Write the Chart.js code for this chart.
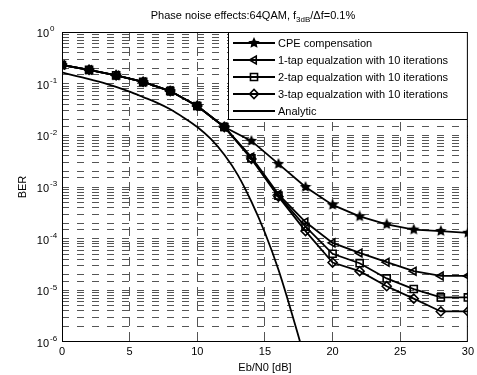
<!DOCTYPE html>
<html>
<head>
<meta charset="utf-8">
<script src="https://cdn.jsdelivr.net/npm/chart.js@4.4.1/dist/chart.umd.min.js"></script>
<style>
    html, body { margin: 0; padding: 0; background: #fff; }
    #wrap { position: relative; width: 477px; height: 375px; }
</style>
</head>
<body>
<div id="wrap"><canvas id="myChart"></canvas></div>
<script>
// Eb/N0 values of the simulated points
const ebn0 = [0, 2, 4, 6, 8, 10, 12, 14, 16, 18, 20, 22, 24, 26, 28, 30];

// BER
const berCpe  = [0.23, 0.185, 0.145, 0.108, 0.072, 0.037, 0.0145, 7.8e-3, 2.8e-3, 1.0e-3, 4.5e-4, 2.7e-4, 1.9e-4, 1.5e-4, 1.4e-4, 1.3e-4];
const berTap1 = [0.23, 0.185, 0.145, 0.108, 0.072, 0.037, 0.0145, 3.8e-3, 7.2e-4, 2.1e-4, 8.3e-5, 5.3e-5, 3.5e-5, 2.35e-5, 1.9e-5, 1.9e-5];
const berTap2 = [0.23, 0.185, 0.145, 0.108, 0.072, 0.037, 0.0145, 3.6e-3, 6.8e-4, 1.7e-4, 5.1e-5, 3.35e-5, 1.7e-5, 1.06e-5, 7.3e-6, 7.3e-6];
const berTap3 = [0.23, 0.185, 0.145, 0.108, 0.072, 0.037, 0.0145, 3.5e-3, 6.5e-4, 1.4e-4, 3.45e-5, 2.35e-5, 1.2e-5, 6.9e-6, 3.9e-6, 3.9e-6];

// analytic curve
const ebn0Analytic = [0, 1, 2, 3, 4, 5, 6, 7, 8, 9, 10, 11, 12, 13, 14, 15, 16, 17, 17.6];
const berAnalytic  = [0.165, 0.142, 0.122, 0.105, 0.087, 0.07, 0.055, 0.043, 0.032, 0.022, 0.0145, 8.5e-3, 4.2e-3, 1.7e-3, 5.2e-4, 1.3e-4, 2.5e-5, 3.5e-6, 1e-6];

const xTicks = [0, 5, 10, 15, 20, 25, 30];
const yDecades = [0, -1, -2, -3, -4, -5, -6];

const seriesNames = [
    "CPE compensation",
    "1-tap equalzation with 10 iterations",
    "2-tap equalzation with 10 iterations",
    "3-tap equalzation with 10 iterations",
    "Analytic"
];

const FONT = '"Liberation Sans", Arial, Helvetica, sans-serif';

// filled star marker (pentagram)
function makeStar(size) {
    const c = document.createElement("canvas");
    c.width = size; c.height = size;
    const g = c.getContext("2d");
    const cx = size / 2, cy = size / 2, ro = size / 2, ri = ro * 0.48;
    g.beginPath();
    for (let i = 0; i < 10; i++) {
        const r = i % 2 === 0 ? ro : ri;
        const a = -Math.PI / 2 + i * Math.PI / 5;
        g.lineTo(cx + r * Math.cos(a), cy + r * Math.sin(a));
    }
    g.closePath();
    g.fillStyle = "#000";
    g.fill();
    return c;
}
const starImg = makeStar(12);

const pts = (xs, ys) => xs.map((x, i) => ({ x: x, y: ys[i] }));

const styles = [
    { pointStyle: starImg, rotation: 0, radius: 6 },
    { pointStyle: "triangle", rotation: -90, radius: 4.5 },
    { pointStyle: "rect", rotation: 0, radius: 5 },
    { pointStyle: "rectRot", rotation: 0, radius: 4.5 },
    { pointStyle: false, rotation: 0, radius: 0 }
];

function simSet(i, ys) {
    return {
        label: seriesNames[i],
        data: pts(ebn0, ys),
        borderColor: "#000",
        backgroundColor: "rgba(0,0,0,0)",
        borderWidth: 1.8,
        pointStyle: styles[i].pointStyle,
        pointRotation: styles[i].rotation,
        pointRadius: styles[i].radius,
        pointBorderWidth: 1.6,
        pointBackgroundColor: "rgba(0,0,0,0)",
        pointBorderColor: "#000",
        fill: false
    };
}

const decorations = {
    id: "decorations",
    afterDraw(chart) {
        const ctx = chart.ctx;
        const a = chart.chartArea;
        const yScale = chart.scales.y;
        ctx.save();
        ctx.setLineDash([]);

        // frame
        ctx.strokeStyle = "#000";
        ctx.lineWidth = 1;
        ctx.strokeRect(a.left + 0.5, a.top + 0.5, a.right - a.left - 1, a.bottom - a.top - 1);

        // y tick labels 10^n
        ctx.fillStyle = "#000";
        ctx.textBaseline = "middle";
        yDecades.forEach(e => {
            const y = yScale.getPixelForValue(Math.pow(10, e));
            ctx.font = "11px " + FONT;
            ctx.textAlign = "right";
            ctx.fillText("10", 49, y + 2);
            ctx.font = "8px " + FONT;
            ctx.textAlign = "left";
            ctx.fillText(String(e), 50, y - 3);
        });

        // title with subscript
        const parts = [
            { t: "Phase noise effects:64QAM, f", f: "11px " + FONT, dy: 0 },
            { t: "3dB", f: "8px " + FONT, dy: 3 },
            { t: "/\u0394f=0.1%", f: "11px " + FONT, dy: 0 }
        ];
        let total = 0;
        parts.forEach(p => { ctx.font = p.f; p.w = ctx.measureText(p.t).width; total += p.w; });
        let tx = 253 - total / 2;
        ctx.textAlign = "left";
        ctx.textBaseline = "alphabetic";
        parts.forEach(p => {
            ctx.font = p.f;
            ctx.fillText(p.t, tx, 19 + p.dy);
            tx += p.w;
        });

        // legend
        const lx = 228, ly = a.top, lw = a.right - lx, lh = 88;
        ctx.fillStyle = "#fff";
        ctx.fillRect(lx, ly, lw, lh);
        ctx.strokeStyle = "#000";
        ctx.lineWidth = 1;
        ctx.strokeRect(lx + 0.5, ly + 0.5, lw - 1, lh - 1);
        ctx.font = "11px " + FONT;
        ctx.textBaseline = "middle";
        seriesNames.forEach((name, i) => {
            const y = 43 + i * 17;
            ctx.strokeStyle = "#000";
            ctx.lineWidth = 1.8;
            ctx.beginPath();
            ctx.moveTo(233, y);
            ctx.lineTo(275, y);
            ctx.stroke();
            if (styles[i].pointStyle) {
                ctx.fillStyle = "rgba(0,0,0,0)";
                ctx.lineWidth = 1.6;
                Chart.helpers.drawPoint(ctx, {
                    pointStyle: styles[i].pointStyle,
                    rotation: styles[i].rotation,
                    radius: styles[i].radius,
                    borderWidth: 1.6
                }, 254, y);
            }
            ctx.fillStyle = "#000";
            ctx.fillText(name, 278, y + 1);
        });
        ctx.restore();
    }
};

const ctx = document.getElementById("myChart").getContext("2d");
const myChart = new Chart(ctx, {
    type: "line",
    data: {
        datasets: [
            simSet(0, berCpe),
            simSet(1, berTap1),
            simSet(2, berTap2),
            simSet(3, berTap3),
            {
                label: seriesNames[4],
                data: pts(ebn0Analytic, berAnalytic),
                borderColor: "#000",
                borderWidth: 1.8,
                pointRadius: 0,
                cubicInterpolationMode: "monotone",
                fill: false
            }
        ]
    },
    options: {
        responsive: true,
        maintainAspectRatio: false,
        animation: false,
        layout: { padding: { top: 32, right: 6, left: 0, bottom: 0 } },
        plugins: {
            legend: { display: false },
            title: { display: false },
            tooltip: { enabled: false }
        },
        scales: {
            x: {
                type: "linear",
                min: 0,
                max: 30,
                afterBuildTicks: s => { s.ticks = xTicks.map(v => ({ value: v })); },
                afterFit: s => { s.height = 33; },
                ticks: { color: "#000", font: { family: FONT, size: 11 }, padding: 3, maxRotation: 0 },
                grid: {
                    drawTicks: false,
                    color: c => (c.tick && (c.tick.value === 0 || c.tick.value === 30)) ? "rgba(0,0,0,0)" : "#555"
                },
                border: { display: false, dash: [9, 6] },
                title: {
                    display: true,
                    text: "Eb/N0 [dB]",
                    color: "#000",
                    font: { family: FONT, size: 11 },
                    padding: { top: 0, bottom: 0 }
                }
            },
            y: {
                type: "logarithmic",
                min: 1e-6,
                max: 1,
                afterFit: s => { s.width = 62; },
                ticks: { callback: () => "", autoSkip: false },
                grid: {
                    drawTicks: false,
                    color: c => (c.tick && (c.tick.value >= 1 || c.tick.value <= 1e-6)) ? "rgba(0,0,0,0)" : "#555"
                },
                border: { display: false, dash: [7, 8] },
                title: {
                    display: true,
                    text: "BER",
                    color: "#000",
                    font: { family: FONT, size: 11 },
                    padding: { top: 16, bottom: 0 }
                }
            }
        }
    },
    plugins: [decorations]
});
</script>
</body>
</html>
